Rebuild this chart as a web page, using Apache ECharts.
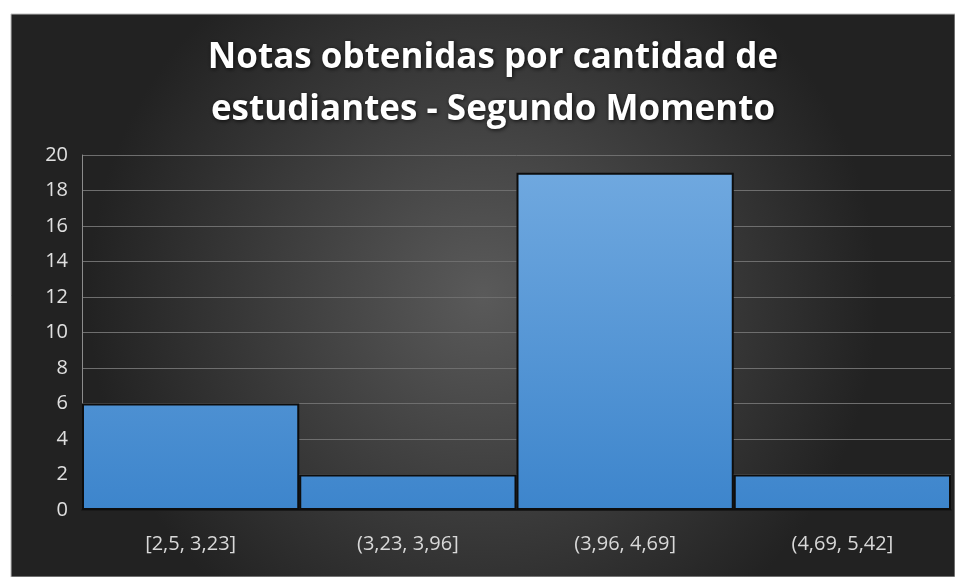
<!DOCTYPE html>
<html>
<head>
<meta charset="utf-8">
<script src="https://cdn.jsdelivr.net/npm/echarts@6/dist/echarts.min.js"></script>
<style>
  html, body { margin: 0; padding: 0; background: #fff; }
  #chart { width: 955px; height: 577px; }
</style>
</head>
<body>
<div id="chart"></div>
<script>
// categories (grade intervals) and number of students
var categories = ["[2,5, 3,23]", "(3,23, 3,96]", "(3,96, 4,69]", "(4,69, 5,42]"];
var counts = [6, 2, 19, 2];
var titleLines = ["Notas obtenidas por cantidad de", "estudiantes - Segundo Momento"];

var chart = echarts.init(document.getElementById("chart"));
chart.setOption({
  animation: false,
  backgroundColor: "#ffffff",
  graphic: [
    {
      type: "rect",
      z: -10,
      shape: { x: 11, y: 14, width: 944, height: 563 },
      style: {
        fill: new echarts.graphic.RadialGradient(0.5, 0.5, 0.7, [
          { offset: 0, color: "#5a5a5a" },
          { offset: 1, color: "#222222" }
        ]),
        stroke: "#bdbdbd",
        lineWidth: 1
      }
    }
  ],
  title: {
    text: titleLines.join("\n"),
    left: 488,
    top: 27,
    textAlign: "center",
    textStyle: {
      color: "#ffffff",
      fontFamily: "Open Sans",
      fontWeight: "bold",
      fontSize: 35,
      lineHeight: 52,
      textShadowColor: "rgba(0,0,0,0.8)",
      textShadowBlur: 4,
      textShadowOffsetX: 1,
      textShadowOffsetY: 1
    }
  },
  grid: {
    left: 82,
    right: 4,
    top: 155,
    bottom: 67
  },
  xAxis: {
    type: "category",
    data: categories,
    axisTick: { show: false },
    axisLine: { lineStyle: { color: "#1a1a1a", width: 2 } },
    axisLabel: {
      color: "#d9d9d9",
      fontFamily: "Open Sans",
      fontSize: 20,
      margin: 24
    }
  },
  yAxis: {
    type: "value",
    min: 0,
    max: 20,
    interval: 2,
    axisLine: { show: true, lineStyle: { color: "#8c8c8c", width: 1 } },
    axisTick: { show: false },
    splitLine: { lineStyle: { color: "#6e6e6e", width: 1 } },
    axisLabel: {
      color: "#e0e0e0",
      fontFamily: "Open Sans",
      fontSize: 20,
      margin: 14
    }
  },
  series: [
    {
      type: "bar",
      data: counts,
      barCategoryGap: "0%",
      itemStyle: {
        color: new echarts.graphic.LinearGradient(0, 155, 0, 510, [
          { offset: 0, color: "#72aae0" },
          { offset: 1, color: "#3d85cc" }
        ], true),
        borderColor: "#0d0d0d",
        borderWidth: 2
      }
    }
  ]
});
</script>
</body>
</html>
